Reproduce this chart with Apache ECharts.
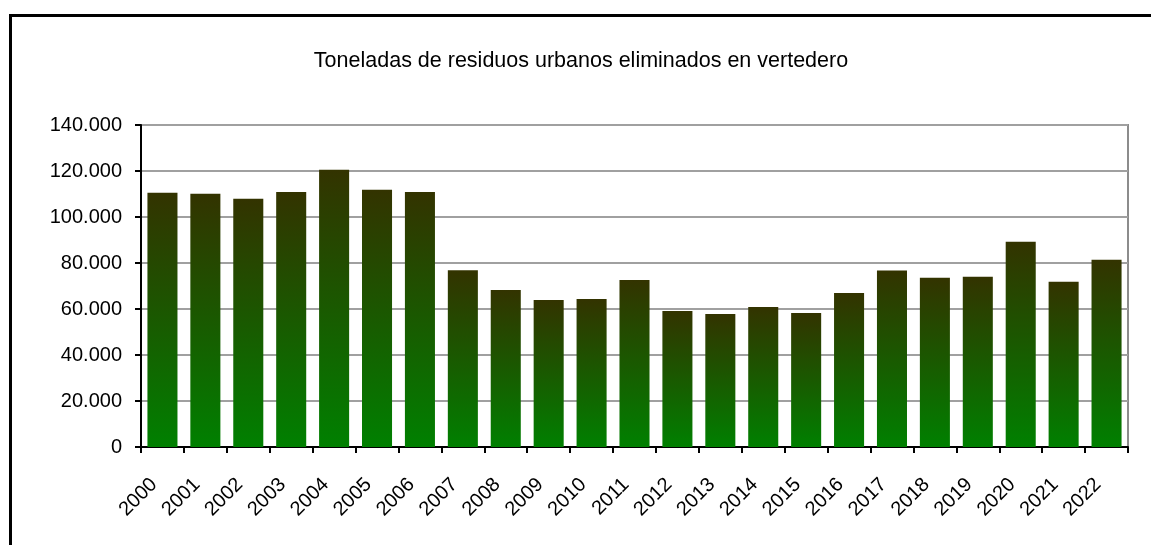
<!DOCTYPE html>
<html>
<head>
<meta charset="utf-8">
<script src="https://cdn.jsdelivr.net/npm/echarts@6/dist/echarts.min.js"></script>
<style>
  html, body { margin: 0; padding: 0; background: #fff; overflow: hidden; }
  #frame { position: absolute; left: 9px; top: 14px; width: 1200px; height: 600px; border: 3px solid #000; box-sizing: border-box; }
  #chart { position: absolute; left: 0; top: 0; width: 1151px; height: 545px; }
</style>
</head>
<body>
<div id="frame"></div>
<div id="chart"></div>
<script>
// datos
const years = ['2000', '2001', '2002', '2003', '2004', '2005', '2006', '2007', '2008', '2009', '2010', '2011',
  '2012', '2013', '2014', '2015', '2016', '2017', '2018', '2019', '2020', '2021', '2022'];
const toneladas = [110500, 110100, 107900, 110900, 120500, 111800, 110900, 76900, 68300, 63900, 64400, 72600,
  59100, 57800, 60900, 58300, 67000, 76700, 73600, 74000, 89200, 71900, 81400];
const yTicks = [0, 20000, 40000, 60000, 80000, 100000, 120000, 140000];

const chart = echarts.init(document.getElementById('chart'));

const fmt = v => v === 0 ? '0' : String(v).replace(/\B(?=(\d{3})+(?!\d))/g, '.');

const option = {
  animation: false,
  textStyle: { fontFamily: 'Liberation Sans, Arial, sans-serif' },
  title: {
    text: 'Toneladas de residuos urbanos eliminados en vertedero',
    left: 576,
    textAlign: 'center',
    top: 45,
    textStyle: { fontSize: 21.5, fontWeight: 'normal', color: '#000', fontFamily: 'Liberation Sans' }
  },
  grid: {
    left: 141, right: 23, top: 125, bottom: 98,
    show: true, borderColor: '#8c8c8c', borderWidth: 2, backgroundColor: 'transparent'
  },
  xAxis: {
    type: 'category',
    data: years,
    boundaryGap: true,
    axisLine: { lineStyle: { color: '#000', width: 2 } },
    axisTick: { show: true, length: 6, lineStyle: { color: '#000', width: 2 } },
    axisLabel: { rotate: 45, margin: 26, fontSize: 20, color: '#000', interval: 0, padding: [0, 12, 0, 0] }
  },
  yAxis: {
    type: 'value',
    min: yTicks[0],
    max: yTicks[yTicks.length - 1],
    interval: 20000,
    axisLine: { show: true, lineStyle: { color: '#000', width: 2 } },
    axisTick: { show: true, length: 6, lineStyle: { color: '#000', width: 2 } },
    axisLabel: { fontSize: 20, color: '#000', margin: 19, formatter: fmt },
    splitLine: { lineStyle: { color: '#a0a0a0', width: 2 } }
  },
  series: [{
    type: 'bar',
    data: toneladas,
    barWidth: '70%',
    itemStyle: {
      color: new echarts.graphic.LinearGradient(0, 0, 0, 1, [
        { offset: 0, color: '#333300' },
        { offset: 1, color: '#008000' }
      ])
    }
  }]
};

chart.setOption(option);
</script>
</body>
</html>
